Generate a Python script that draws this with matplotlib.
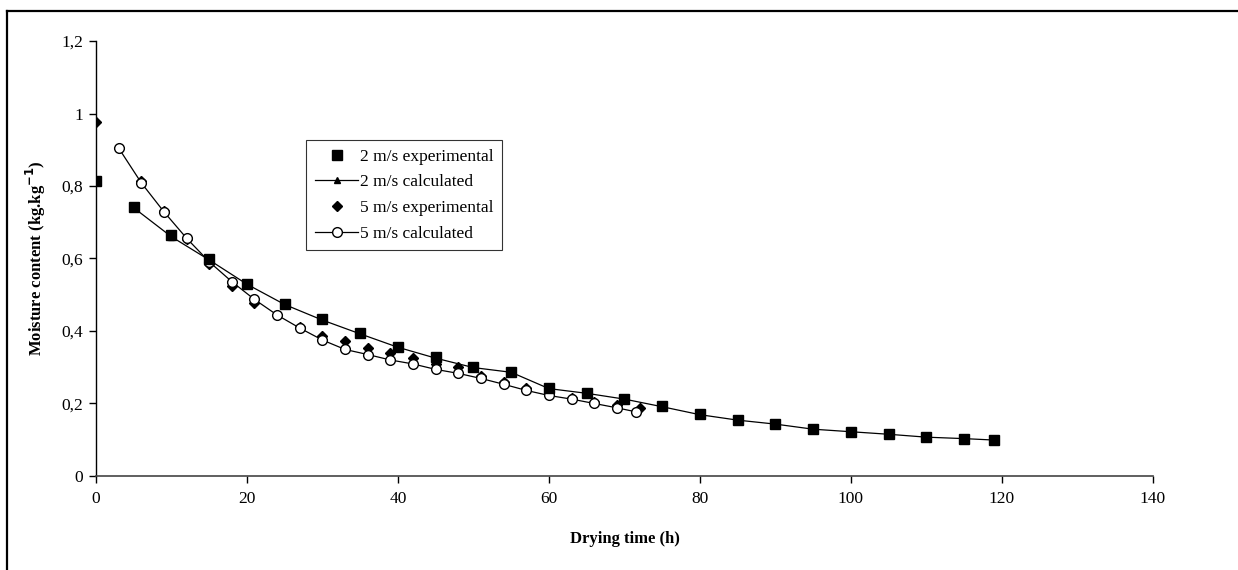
import matplotlib
matplotlib.use("Agg")
import matplotlib.pyplot as plt
from matplotlib.lines import Line2D

plt.rcParams['font.family'] = ['Liberation Serif', 'DejaVu Serif']

# 2 m/s experimental
t_2exp = [0, 5, 10, 15, 20, 25, 30, 35, 40, 45, 50, 55, 60, 65, 70, 75, 80, 85, 90, 95, 100, 105, 110, 115, 119]
m_2exp = [0.815, 0.743, 0.665, 0.598, 0.530, 0.474, 0.432, 0.394, 0.357, 0.327, 0.300, 0.288,
          0.242, 0.230, 0.213, 0.192, 0.170, 0.154, 0.144, 0.129, 0.122, 0.115, 0.108, 0.103, 0.100]
# 2 m/s calculated
t_2cal = [5, 10, 15, 20, 25, 30, 35, 40, 45, 50, 55, 60, 65, 70, 75, 80, 85, 90, 95, 100, 105, 110, 115, 119]
m_2cal = [0.740, 0.660, 0.596, 0.529, 0.473, 0.430, 0.392, 0.355, 0.325, 0.299, 0.286,
          0.241, 0.228, 0.212, 0.191, 0.169, 0.154, 0.143, 0.129, 0.122, 0.115, 0.107, 0.103, 0.099]
# 5 m/s experimental
t_5exp = [0, 3, 6, 9, 12, 15, 18, 21, 24, 27, 30, 33, 36, 39, 42, 45, 48, 51, 54, 57, 60, 63, 66, 69, 72]
m_5exp = [0.976, 0.905, 0.815, 0.730, 0.655, 0.585, 0.524, 0.478, 0.445, 0.410, 0.387, 0.372,
          0.354, 0.338, 0.325, 0.309, 0.300, 0.276, 0.260, 0.242, 0.226, 0.216, 0.205, 0.195, 0.187]
# 5 m/s calculated
t_5cal = [3, 6, 9, 12, 15, 18, 21, 24, 27, 30, 33, 36, 39, 42, 45, 48, 51, 54, 57, 60, 63, 66, 69, 71.5]
m_5cal = [0.905, 0.809, 0.729, 0.656, 0.591, 0.536, 0.487, 0.444, 0.408, 0.375, 0.349, 0.335,
          0.320, 0.309, 0.294, 0.283, 0.269, 0.253, 0.236, 0.222, 0.212, 0.200, 0.188, 0.177]

fig = plt.figure(figsize=(12.38, 5.70), dpi=100)
ax = fig.add_axes([0.0775, 0.165, 0.8538, 0.763])

ax.plot(t_2cal, m_2cal, color='black', lw=0.9, marker='^', ms=5, label='2 m/s calculated', zorder=2)
ax.plot(t_5cal, m_5cal, color='black', lw=0.9, marker='o', ms=7, mfc='white', mec='black', mew=1.0,
        label='5 m/s calculated', zorder=3)
ax.plot(t_2exp, m_2exp, ls='none', marker='s', ms=7, color='black', label='2 m/s experimental', zorder=4)
ax.plot(t_5exp, m_5exp, ls='none', marker='D', ms=5.5, color='black', label='5 m/s experimental', zorder=2)

ax.set_xlim(0, 140)
ax.set_ylim(0, 1.2)
ax.set_xticks(range(0, 141, 20))
ax.set_yticks([0, 0.2, 0.4, 0.6, 0.8, 1.0, 1.2])
ax.set_yticklabels(['0', '0,2', '0,4', '0,6', '0,8', '1', '1,2'])
ax.tick_params(direction='out', length=5, width=1, labelsize=12.5, colors='black', pad=6)
ax.tick_params(axis='y', pad=4)
for s in ['top', 'right']:
    ax.spines[s].set_visible(False)
ax.spines['left'].set_linewidth(1)
ax.spines['bottom'].set_linewidth(1.2)
ax.spines['bottom'].set_color('#444444')

ax.set_xlabel('Drying time (h)', fontsize=12, fontweight='bold', labelpad=17)
ax.set_ylabel('Moisture content (kg.kg$^{\\mathbf{-1}}$)', fontsize=12, fontweight='bold', labelpad=10)

h = {l.get_label(): l for l in ax.get_lines()}
order = ['2 m/s experimental', '2 m/s calculated', '5 m/s experimental', '5 m/s calculated']
leg = ax.legend([h[k] for k in order], order, loc='upper left', bbox_to_anchor=(0.199, 0.773),
                fontsize=12.5, frameon=True, fancybox=False, edgecolor='black', handlelength=2.5,
                handletextpad=0.1, borderpad=0.5, labelspacing=0.55, borderaxespad=0)
leg.get_frame().set_linewidth(0.8)

# outer frame (top and left edges visible)
fig.add_artist(Line2D([0.0059, 1.0], [0.981, 0.981], transform=fig.transFigure, color='black', lw=1.6))
fig.add_artist(Line2D([0.0059, 0.0059], [0.0, 0.981], transform=fig.transFigure, color='black', lw=1.6))

fig.savefig('out.png', dpi=100)
